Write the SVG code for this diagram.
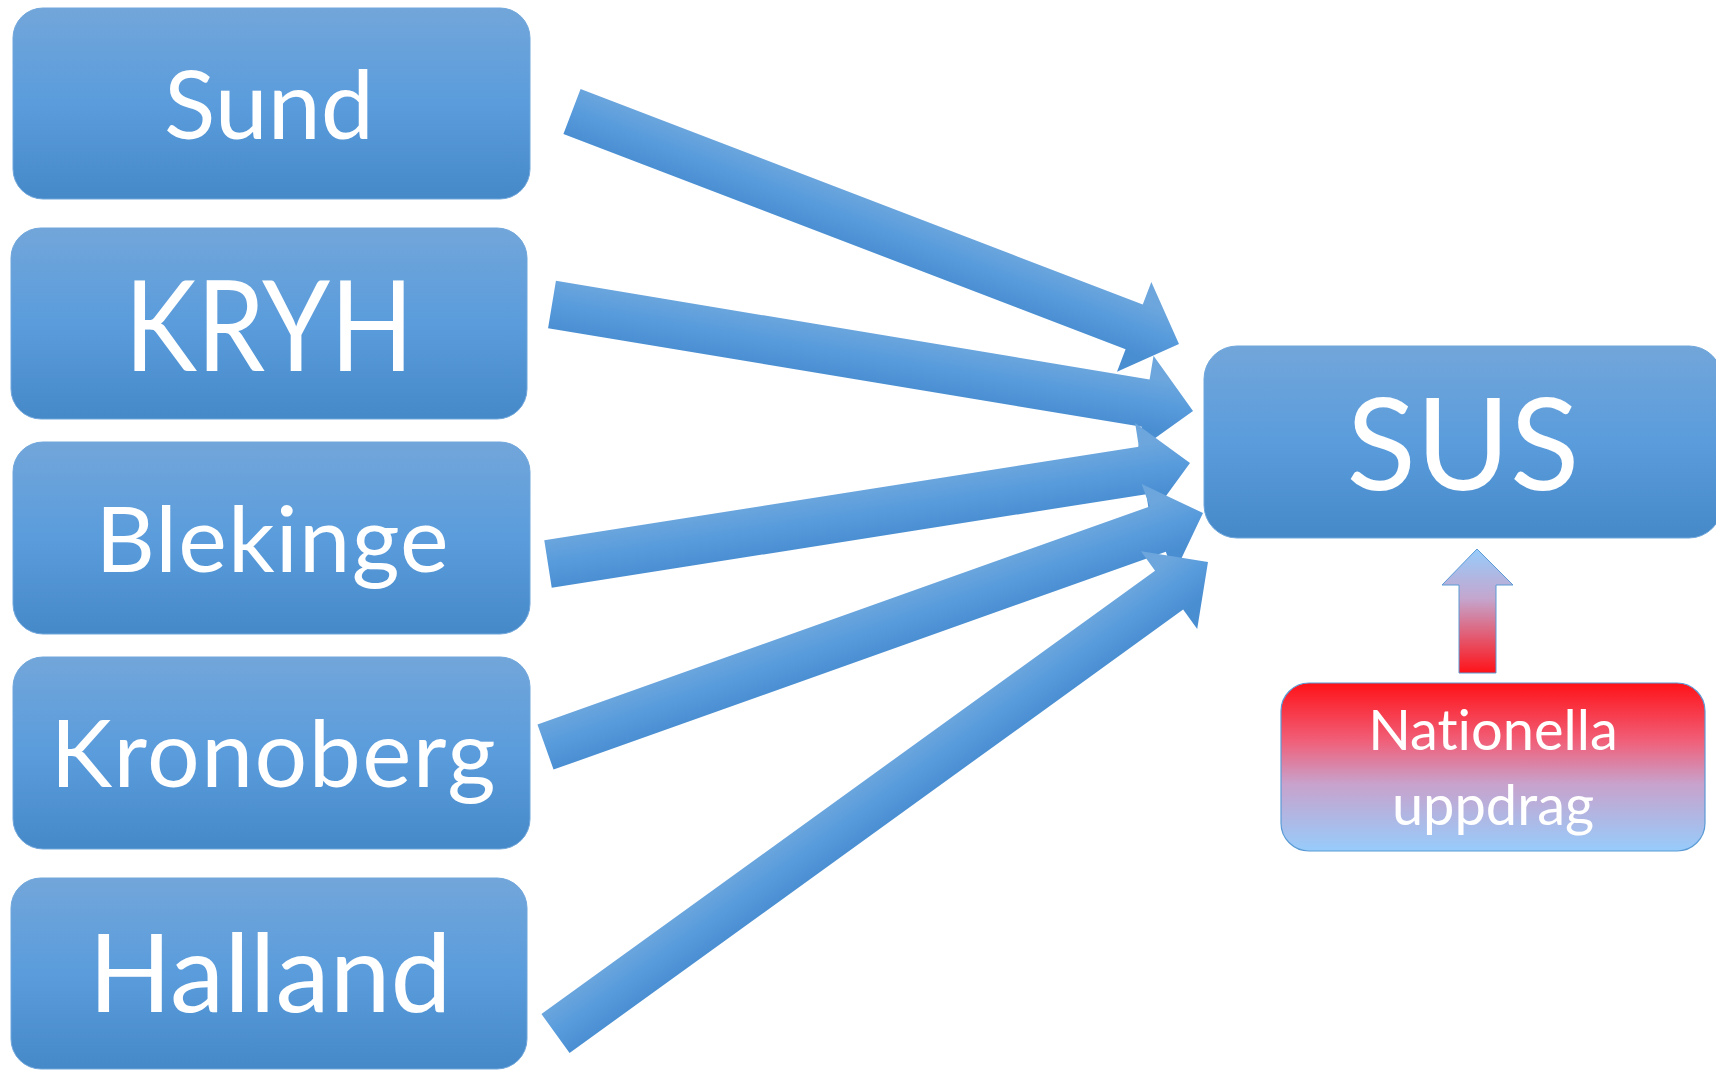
<svg xmlns="http://www.w3.org/2000/svg" width="1716" height="1074" viewBox="0 0 1716 1074">
<defs>
<linearGradient id="gBox" x1="0" y1="0" x2="0" y2="1">
<stop offset="0" stop-color="#72A6DA"/>
<stop offset="0.5" stop-color="#5A9CDC"/>
<stop offset="1" stop-color="#4689C8"/>
</linearGradient>
<linearGradient id="gArrow" gradientUnits="userSpaceOnUse" x1="0" y1="-26" x2="0" y2="26">
<stop offset="0" stop-color="#6CA6DD"/>
<stop offset="0.5" stop-color="#579BDC"/>
<stop offset="1" stop-color="#4A8ED2"/>
</linearGradient>
<linearGradient id="gNat" x1="0" y1="0" x2="0" y2="1">
<stop offset="0" stop-color="#FF1218"/>
<stop offset="0.35" stop-color="#F0607A"/>
<stop offset="0.6" stop-color="#C8A2CC"/>
<stop offset="1" stop-color="#97CCFB"/>
</linearGradient>
<linearGradient id="gUp" x1="0" y1="0" x2="0" y2="1">
<stop offset="0" stop-color="#97CCFB"/>
<stop offset="0.4" stop-color="#C4A6CE"/>
<stop offset="1" stop-color="#FF1218"/>
</linearGradient>
<style>
.box{fill:url(#gBox);stroke:#6FA6DB;stroke-width:1}
.lbl{font-family:Lato,"Open Sans","Liberation Sans",sans-serif;fill:#FFFFFF;text-anchor:middle;font-variant-ligatures:none}
.arr{fill:url(#gArrow)}
</style>
</defs>
<g id="connectors">
<polygon class="arr" transform="translate(572,111.5) rotate(20.96)" points="0,-24 602,-24 602,-48 650,0 602,48 602,24 0,24"/>
<polygon class="arr" transform="translate(552,304.5) rotate(9.43)" points="0,-24 601.8,-24 601.8,-48 649.8,0 601.8,48 601.8,24 0,24"/>
<polygon class="arr" transform="translate(548,564) rotate(-8.94)" points="0,-24 601.9,-24 601.9,-48 649.9,0 601.9,48 601.9,24 0,24"/>
<polygon class="arr" transform="translate(545.5,747) rotate(-19.59)" points="0,-24 649.9,-24 649.9,-48 697.9,0 649.9,48 649.9,24 0,24"/>
<polygon class="arr" transform="translate(555.5,1033.5) rotate(-35.85)" points="0,-24 757,-24 757,-48 805,0 757,48 757,24 0,24"/>
<polygon id="upArrow" fill="url(#gUp)" stroke="#5B9BD5" stroke-width="1" points="1477,549 1513,585 1496,585 1496,673 1459,673 1459,585 1442,585"/>
</g>
<g id="sund">
<rect class="box" x="13" y="8" width="517" height="191" rx="30"/>
<text class="lbl" x="269" y="139" font-size="95">Sund</text>
</g>
<g id="kryh">
<rect class="box" x="11" y="228" width="516" height="191" rx="30"/>
<text class="lbl" x="269" y="371" font-size="126" textLength="289" lengthAdjust="spacingAndGlyphs">KRYH</text>
</g>
<g id="blekinge">
<rect class="box" x="13" y="442" width="517" height="192" rx="30"/>
<text class="lbl" x="272" y="572" font-size="92" textLength="353">Blekinge</text>
</g>
<g id="kronoberg">
<rect class="box" x="13" y="657" width="517" height="192" rx="30"/>
<text class="lbl" x="273" y="787" font-size="93" textLength="445">Kronoberg</text>
</g>
<g id="halland">
<rect class="box" x="11" y="878" width="516" height="191" rx="30"/>
<text class="lbl" x="270" y="1012" font-size="109">Halland</text>
</g>
<g id="sus">
<rect class="box" x="1204" y="346" width="518" height="192" rx="33"/>
<text class="lbl" x="1463" y="490" font-size="128">SUS</text>
</g>
<g id="nationella">
<rect x="1281" y="683" width="424" height="168" rx="28" fill="url(#gNat)" stroke="#5B9BD5" stroke-width="1.2"/>
<text class="lbl" x="1493" y="750" font-size="56">Nationella</text>
<text class="lbl" x="1493" y="825" font-size="56">uppdrag</text>
</g>
</svg>
